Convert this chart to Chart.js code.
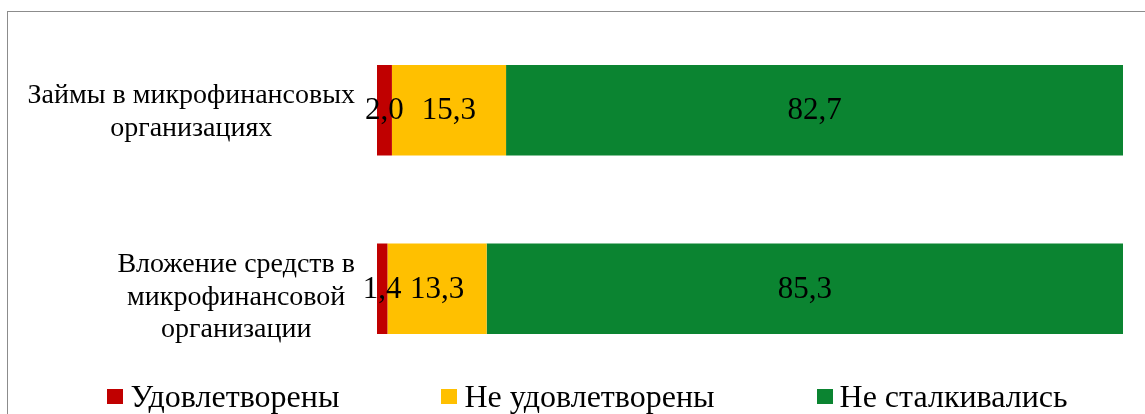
<!DOCTYPE html>
<html>
<head>
<meta charset="utf-8">
<script src="https://cdn.jsdelivr.net/npm/chart.js@4/dist/chart.umd.min.js"></script>
<style>
    body { margin: 0; background: #fff; }
    #wrap { position: relative; width: 1145px; height: 414px; overflow: hidden; }
    #frame { position: absolute; left: 7px; top: 11px; width: 1200px; height: 500px; border: 1px solid #8c8c8c; }
    #chart { position: absolute; left: 0; top: 0; }
    #legend { position: absolute; left: 15px; top: 379px; width: 1145px; display: flex; justify-content: center; gap: 102px;
              font-family: "Liberation Serif", "Times New Roman", serif; font-size: 32px; color: #000; line-height: 34px; }
    .legend-item { display: flex; align-items: center; white-space: nowrap; }
    .legend-box { width: 16px; height: 15px; margin-right: 7px; }
</style>
</head>
<body>
<div id="wrap">
    <div id="frame"></div>
    <canvas id="chart" width="1145" height="414"></canvas>
    <div id="legend"></div>
</div>
<script>
const categories = [
    ["Займы в микрофинансовых", "организациях"],
    ["Вложение средств в", "микрофинансовой", "организации"]
];
const seriesNames = ["Удовлетворены", "Не удовлетворены", "Не сталкивались"];
const seriesColors = ["#C00000", "#FFC000", "#0B8431"];
const satisfied = [2.0, 1.4];
const notSatisfied = [15.3, 13.3];
const notFaced = [82.7, 85.3];

const serifFont = '"Liberation Serif", "Times New Roman", serif';

// category labels: each block right-aligned, lines centred inside the block
const categoryLabels = {
    id: 'categoryLabels',
    afterDraw(chart) {
        const ctx = chart.ctx;
        const yScale = chart.scales.y;
        const right = chart.chartArea.left - 22;
        const lineH = 32.5;
        ctx.save();
        ctx.font = '28px ' + serifFont;
        ctx.fillStyle = '#000';
        ctx.textAlign = 'center';
        ctx.textBaseline = 'alphabetic';
        categories.forEach((lines, i) => {
            const widest = Math.max(...lines.map(l => ctx.measureText(l).width));
            const cx = right - widest / 2;
            const cy = yScale.getPixelForValue(i) + 9 + (lines.length - 2) * 7;
            lines.forEach((line, j) => {
                ctx.fillText(line, cx, cy + (j - (lines.length - 1) / 2) * lineH);
            });
        });
        ctx.restore();
    }
};

const valueLabels = {
    id: 'valueLabels',
    afterDatasetsDraw(chart) {
        const ctx = chart.ctx;
        ctx.save();
        ctx.font = '31px ' + serifFont;
        ctx.fillStyle = '#000';
        ctx.textAlign = 'center';
        ctx.textBaseline = 'middle';
        chart.data.datasets.forEach((ds, di) => {
            chart.getDatasetMeta(di).data.forEach((bar, i) => {
                const p = bar.getProps(['x', 'y', 'base'], true);
                ctx.fillText(ds.data[i].toFixed(1).replace('.', ','), (p.x + p.base) / 2, p.y + 1);
            });
        });
        ctx.restore();
    }
};

const htmlLegend = {
    id: 'htmlLegend',
    afterUpdate(chart) {
        const box = document.getElementById('legend');
        box.innerHTML = '';
        chart.data.datasets.forEach(ds => {
            let item = document.createElement('div');
            item.className = 'legend-item';
            let sw = document.createElement('span');
            sw.className = 'legend-box';
            sw.style.background = ds.backgroundColor;
            let txt = document.createElement('span');
            txt.textContent = ds.label;
            item.appendChild(sw);
            item.appendChild(txt);
            box.appendChild(item);
        });
    }
};

const seriesValues = [satisfied, notSatisfied, notFaced];

new Chart(document.getElementById('chart').getContext('2d'), {
    type: 'bar',
    data: {
        labels: categories,
        datasets: seriesNames.map((name, i) => ({
            label: name,
            data: seriesValues[i],
            backgroundColor: seriesColors[i],
            borderWidth: 0,
            barPercentage: 1,
            categoryPercentage: 0.507
        }))
    },
    options: {
        indexAxis: 'y',
        responsive: false,
        animation: false,
        layout: { padding: { left: 377, right: 22, top: 21, bottom: 36 } },
        scales: {
            x: { stacked: true, min: 0, max: 100, display: false },
            y: { stacked: true, display: false }
        },
        plugins: {
            legend: { display: false },
            tooltip: { enabled: false }
        }
    },
    plugins: [categoryLabels, valueLabels, htmlLegend]
});
</script>
</body>
</html>
